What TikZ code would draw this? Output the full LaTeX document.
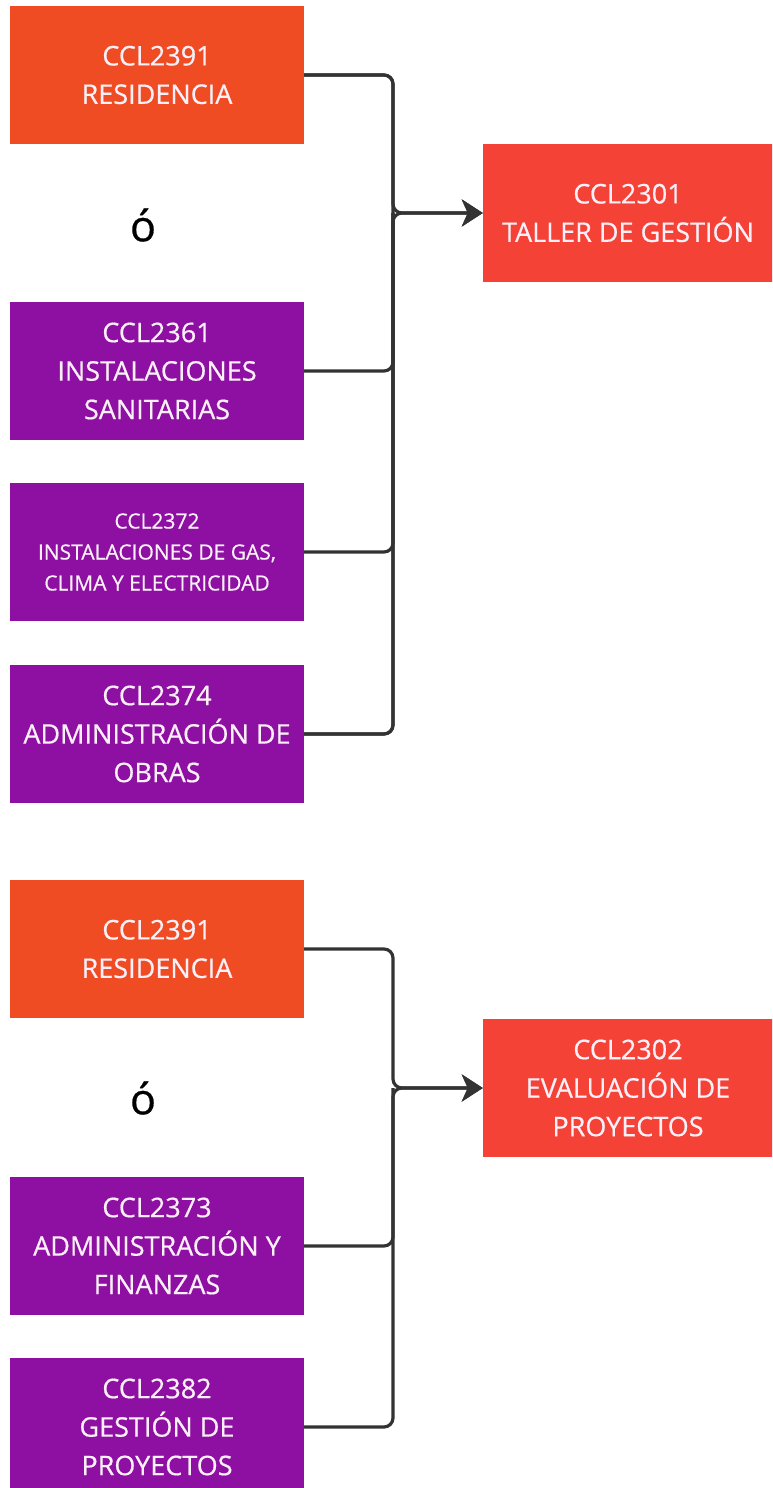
\documentclass[tikz,border=0pt]{standalone}
\usepackage{fontspec}
\setmainfont{Open Sans}[FakeBold=0.6]
\usetikzlibrary{arrows.meta}
\definecolor{cOrange}{RGB}{240,76,36}
\definecolor{cPurple}{RGB}{142,16,162}
\definecolor{cRed}{RGB}{245,66,55}
\definecolor{cLine}{RGB}{51,51,51}
\definecolor{cText}{RGB}{252,240,248}
\tikzset{
  srcbox/.style={minimum width=294pt, minimum height=138pt, inner sep=0pt, text=cText, align=center, font=\fontsize{27}{38.5}\selectfont},
  smallbox/.style={srcbox, font=\fontsize{21}{31}\selectfont},
  orbox/.style={srcbox, fill=cOrange},
  purbox/.style={srcbox, fill=cPurple},
  tgtbox/.style={srcbox, fill=cRed, minimum width=290pt},
  orword/.style={font=\fontsize{43}{44}\selectfont, text=black, inner sep=0pt},
  conn/.style={draw=cLine, line width=3.2pt, rounded corners=9pt},
  arr/.style={conn, -{Stealth[length=21pt,width=27pt,inset=6pt]}}
}
\begin{document}
\begin{tikzpicture}[x=1pt,y=1pt]
\useasboundingbox (0,0) rectangle (772,-1488);
\clip (0,0) rectangle (772,-1488);
% group 1
\node[orbox] (r1) at (157,-75) {CCL2391\\RESIDENCIA};
\node[orword] (o1) at (143,-225) {ó};
\node[purbox] (s1) at (157,-371) {CCL2361\\INSTALACIONES\\SANITARIAS};
\node[purbox, smallbox] (g1) at (157,-552) {CCL2372\\INSTALACIONES DE GAS,\\CLIMA Y ELECTRICIDAD};
\node[purbox] (a1) at (157,-734) {CCL2374\\ADMINISTRACIÓN DE\\OBRAS};
\node[tgtbox] (t1) at (628,-213) {CCL2301\\TALLER DE GESTIÓN};
\coordinate (b1) at (393,-213);
\draw[conn] (r1.east) -| (b1);
\draw[conn] (s1.east) -| (b1);
\draw[conn] (g1.east) -| (b1);
\draw[conn] (a1.east) -| (b1);
\draw[arr] (r1.east) -| (b1) -- (t1.west);
\draw[arr] (a1.east) -| (b1) -- (t1.west);
% group 2
\node[orbox] (r2) at (157,-949) {CCL2391\\RESIDENCIA};
\node[orword] (o2) at (143,-1098) {ó};
\node[purbox] (f2) at (157,-1246) {CCL2373\\ADMINISTRACIÓN Y\\FINANZAS};
\node[purbox] (p2) at (157,-1427) {CCL2382\\GESTIÓN DE\\PROYECTOS};
\node[tgtbox] (t2) at (628,-1088) {CCL2302\\EVALUACIÓN DE\\PROYECTOS};
\coordinate (b2) at (393,-1088);
\draw[conn] (f2.east) -| (b2);
\draw[arr] (r2.east) -| (b2) -- (t2.west);
\draw[arr] (p2.east) -| (b2) -- (t2.west);
\end{tikzpicture}
\end{document}
